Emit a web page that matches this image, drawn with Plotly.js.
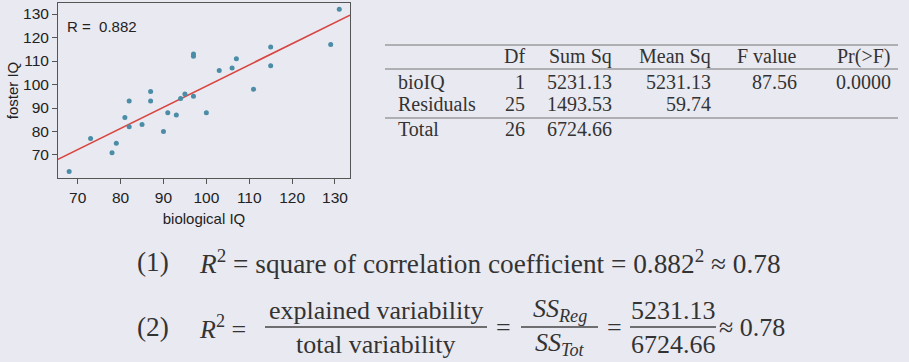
<!DOCTYPE html>
<html>
<head>
<meta charset="utf-8">
<script src="https://cdn.plot.ly/plotly-3.0.1.min.js"></script>
<style>html,body{margin:0;padding:0;background:#e9e9f1;}#chart{width:909px;height:362px;}</style>
</head>
<body>
<div id="chart"></div>
<script>
// Scatter data: biological vs foster twin IQ
var biologicalIQ = [82, 90, 91, 115, 115, 129, 131, 78, 79, 82, 97, 100, 107, 68, 73, 81, 85, 87, 87, 93, 94, 95, 97, 97, 103, 106, 111];
var fosterIQ     = [82, 80, 88, 108, 116, 117, 132, 71, 75, 93, 95, 88, 111, 63, 77, 86, 83, 93, 97, 87, 94, 96, 112, 113, 106, 107, 98];
var fitIntercept = 9.2076;
var fitSlope = 0.9014;
var rValue = "0.882";
var xTicks = [70, 80, 90, 100, 110, 120, 130];
var yTicks = [70, 80, 90, 100, 110, 120, 130];

// ANOVA table
var tableHeader = ["Df", "Sum Sq", "Mean Sq", "F value", "Pr(>F)"];
var rowNames = ["bioIQ", "Residuals", "Total"];
var colDf = ["1", "25", "26"];
var colSumSq = ["5231.13", "1493.53", "6724.66"];
var colMeanSq = ["5231.13", "59.74", ""];
var colF = ["87.56", "", ""];
var colPr = ["0.0000", "", ""];
var r2Approx = "0.78";

var W = 909, H = 362;
function px(x){ return x / W; }
function py(y){ return 1 - y / H; }

var xRange = [65.4, 133.5];
var yRange = [60.2, 134.7];

var lineX = xRange.slice();
var lineY = lineX.map(function(x){ return fitIntercept + fitSlope * x; });

var traces = [
  {x: lineX, y: lineY, mode: 'lines', type: 'scatter', line: {color: '#d9453f', width: 1.6}, hoverinfo: 'skip'},
  {x: biologicalIQ, y: fosterIQ, mode: 'markers', type: 'scatter', marker: {color: '#4b8ca6', size: 5}}
];

var serif = 'Liberation Serif, serif';
var sans = 'Liberation Sans, Arial, sans-serif';
var ann = [];
var shapes = [];

ann.push({xref: 'paper', yref: 'paper', x: px(65), y: py(26), text: 'R =  ' + rValue, showarrow: false, xanchor: 'left', yanchor: 'middle', font: {family: sans, size: 15, color: '#222'}});

// Table
var colRight = [526, 613, 712, 798, 892];
var headerY = 56;
var rowY = [82, 104, 129];
var cols = [colDf, colSumSq, colMeanSq, colF, colPr];
var tf = {family: serif, size: 20, color: '#333'};
function tcell(x, y, t, anchor){
  ann.push({xref:'paper', yref:'paper', x: px(x), y: py(y), text: t, showarrow:false, xanchor: anchor, yanchor:'middle', font: tf, borderpad: 0});
}
tableHeader.forEach(function(h, i){ tcell(colRight[i], headerY, h, 'right'); });
rowNames.forEach(function(n, r){
  tcell(397, rowY[r], n, 'left');
  cols.forEach(function(c, i){ if (c[r] !== "") tcell(colRight[i], rowY[r], c[r], 'right'); });
});
[45, 69, 118].forEach(function(yy){
  shapes.push({type:'line', xref:'paper', yref:'paper', x0: px(385), x1: px(898), y0: py(yy), y1: py(yy), line:{color:'#777', width:1.2}});
});

// Equations
var ef = {family: serif, size: 26, color: '#333'};
var ef1 = {family: serif, size: 27.3, color: '#333'};
function txt(x, y, t, anchor, f){ ann.push({xref:'paper', yref:'paper', x: px(x), y: py(y), text: t, showarrow:false, xanchor: anchor || 'left', yanchor:'middle', font: f || ef, borderpad: 0}); }
txt(136, 262, '(1)', 'left', ef1);
txt(198, 262, '<i>R</i><sup>2</sup> = square of correlation coefficient = ' + rValue + '<sup>2</sup> ≈ ' + r2Approx, 'left', ef1);
txt(136, 327, '(2)', 'left', ef1);
txt(198, 327, '<i>R</i><sup>2</sup> =');
function frac(x0, x1, num, den){
  var cx = (x0 + x1) / 2;
  txt(cx, 310, num, 'center');
  txt(cx, 344, den, 'center');
  shapes.push({type:'line', xref:'paper', yref:'paper', x0: px(x0), x1: px(x1), y0: py(327), y1: py(327), line:{color:'#444', width:1.3}});
}
frac(265, 487, 'explained variability', 'total variability');
txt(495, 327, '=');
frac(521, 598, '<i>SS</i><sub><i>Reg</i></sub>', '<i>SS</i><sub><i>Tot</i></sub>');
txt(606, 327, '=');
frac(630, 716, colSumSq[0], colSumSq[2]);
txt(718, 327, '≈ ' + r2Approx);

var axisCommon = {showgrid: false, zeroline: false, showline: true, mirror: true, linecolor: '#555', linewidth: 1,
  ticks: 'outside', ticklen: 5, tickcolor: '#555', tickfont: {family: sans, size: 15.5, color: '#222'}};

var layout = {
  width: W, height: H,
  margin: {l: 0, r: 0, t: 0, b: 0},
  paper_bgcolor: '#e9e9f1', plot_bgcolor: '#e9e9f1',
  showlegend: false,
  xaxis: Object.assign({}, axisCommon, {domain: [px(58), px(350)], range: xRange, tickvals: xTicks,
    title: {text: 'biological IQ', font: {family: sans, size: 15, color: '#222'}, standoff: 8}}),
  yaxis: Object.assign({}, axisCommon, {domain: [py(178), py(3)], range: yRange, tickvals: yTicks,
    title: {text: 'foster IQ', font: {family: sans, size: 15, color: '#222'}, standoff: 0}}),
  annotations: ann,
  shapes: shapes
};

Plotly.newPlot('chart', traces, layout, {displayModeBar: false, staticPlot: true});
</script>
</body>
</html>
